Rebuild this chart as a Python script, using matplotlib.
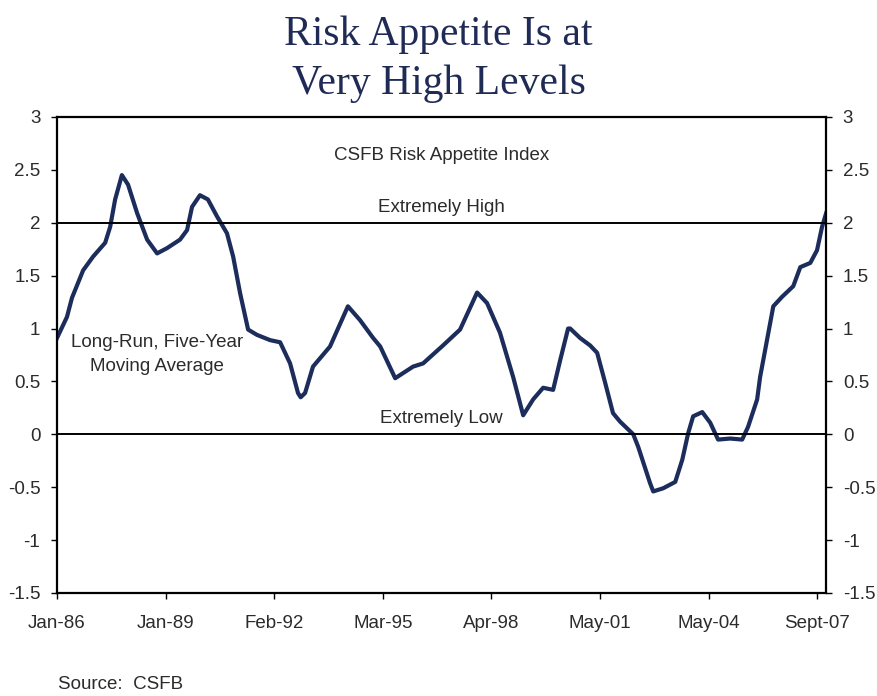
"""
CSFB Risk Appetite Index, Jan-86 to Sept-07.
Values read off the published chart (month offsets from Jan-86).
"""
import matplotlib
matplotlib.use("Agg")
import matplotlib.pyplot as plt

# month offset from Jan-86 and index value at that point
MONTHS = [
    0, 3.4, 5.1, 8.9, 12.3, 16.4, 18.1, 19.8, 22.1, 24.2, 27.3, 30.7, 34.1,
    37.5, 41.9, 44.3, 46.0, 48.7, 51.4, 54.5, 57.9, 60.0, 62.4, 65.1, 68.1,
    72.6, 76.0, 79.4, 82.1, 83.0, 84.5, 87.2, 93.0, 99.1, 103.2, 107.7,
    110.1, 115.2, 121.3, 124.7, 131.5, 137.3, 143.1, 146.5, 150.9, 155.4,
    158.8, 162.2, 165.6, 169.0, 171.4, 174.1, 174.8, 178.2, 181.6, 184.0,
    186.7, 189.4, 191.8, 196.3, 198.0, 202.0, 203.1, 206.5, 210.6, 213.0,
    215.0, 216.7, 219.8, 222.5, 225.2, 229.3, 233.4, 235.4, 238.5, 239.5,
    244.0, 247.0, 250.8, 253.2, 256.6, 258.9, 260.6, 262.0,
]
VALUES = [
    0.91, 1.11, 1.29, 1.55, 1.68, 1.81, 1.96, 2.22, 2.45, 2.36, 2.09, 1.84, 1.71,
    1.76, 1.84, 1.93, 2.15, 2.26, 2.22, 2.06, 1.90, 1.68, 1.33, 0.99, 0.94,
    0.89, 0.87, 0.67, 0.39, 0.35, 0.39, 0.64, 0.83, 1.21, 1.08, 0.91,
    0.83, 0.53, 0.64, 0.67, 0.84, 0.99, 1.34, 1.24, 0.96, 0.54,
    0.18, 0.33, 0.44, 0.42, 0.70, 1.00, 1.00, 0.91, 0.84, 0.77,
    0.49, 0.20, 0.12, 0.00, -0.12, -0.46, -0.54, -0.51, -0.45, -0.24,
    0.01, 0.17, 0.21, 0.11, -0.05, -0.04, -0.05, 0.07, 0.33, 0.54,
    1.21, 1.30, 1.40, 1.58, 1.62, 1.74, 1.96, 2.09,
]

TICK_MONTHS = [0, 37, 74, 111, 148, 185, 222, 259]
TICK_LABELS = ["Jan-86", "Jan-89", "Feb-92", "Mar-95", "Apr-98", "May-01", "May-04", "Sept-07"]
Y_TICKS = [-1.5, -1, -0.5, 0, 0.5, 1, 1.5, 2, 2.5, 3]
Y_LABELS = ["-1.5", "-1", "-0.5", "0", "0.5", "1", "1.5", "2", "2.5", "3"]

LINE_COLOR = "#1c2d5c"
TITLE_COLOR = "#1f2b55"
TEXT_COLOR = "#2b2b2b"
FS = 13.5

plt.rcParams["font.family"] = ["Liberation Sans", "DejaVu Sans"]

fig = plt.figure(figsize=(8.77, 6.96), dpi=100)
ax = fig.add_axes([0.065, 0.148, 0.877, 0.684])

ax.plot(MONTHS, VALUES, color=LINE_COLOR, lw=3.0, solid_joinstyle="round")
ax.axhline(2, color="black", lw=1.4)
ax.axhline(0, color="black", lw=1.4)

ax.set_xlim(0, 262)
ax.set_ylim(-1.5, 3)
ax.set_xticks(TICK_MONTHS)
ax.set_xticklabels(TICK_LABELS, fontsize=FS, color=TEXT_COLOR)
ax.set_yticks(Y_TICKS)
ax.set_yticklabels(Y_LABELS, fontsize=FS, color=TEXT_COLOR)
ax.tick_params(axis="both", direction="out", length=4, width=1)
ax.tick_params(axis="x", pad=12)
ax.tick_params(axis="y", pad=8, right=True, labelright=True)

for spine in ax.spines.values():
    spine.set_linewidth(1.6)
    spine.set_color("black")

ax.text(131, 2.64, "CSFB Risk Appetite Index", ha="center", va="center",
        fontsize=FS, color=TEXT_COLOR)
ax.text(131, 2.14, "Extremely High", ha="center", va="center",
        fontsize=FS, color=TEXT_COLOR)
ax.text(131, 0.145, "Extremely Low", ha="center", va="center",
        fontsize=FS, color=TEXT_COLOR)
ax.text(34, 0.755, "Long-Run, Five-Year\nMoving Average", ha="center", va="center",
        fontsize=FS, color=TEXT_COLOR, linespacing=1.5)

serif = ["Liberation Serif", "DejaVu Serif"]
fig.text(0.5, 0.936, "Risk Appetite Is at", ha="center", va="baseline",
         fontsize=30, color=TITLE_COLOR, family=serif)
fig.text(0.5, 0.865, "Very High Levels", ha="center", va="baseline",
         fontsize=30, color=TITLE_COLOR, family=serif)

fig.text(0.066, 0.016, "Source:  CSFB", ha="left", va="center",
         fontsize=FS, color=TEXT_COLOR)

fig.savefig("out.png", dpi=100, facecolor="white")
